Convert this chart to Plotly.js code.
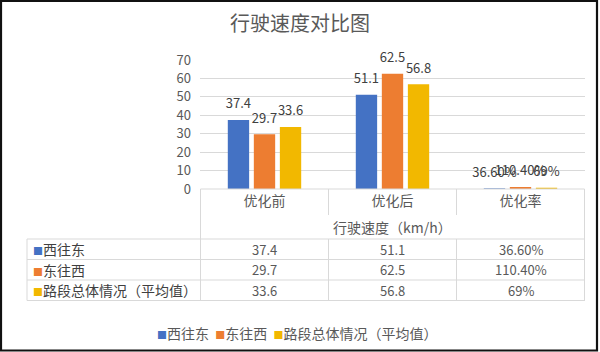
<!DOCTYPE html>
<html>
<head>
<meta charset="utf-8">
<script src="https://cdn.plot.ly/plotly-3.0.1.min.js"></script>
<style>html,body{margin:0;padding:0;background:#fff;}#chart{width:600px;height:352px;}</style>
</head>
<body>
<div id="chart"></div>
<script>
// ---- data ----
const chartTitle = '行驶速度对比图';
const axisTitle = '行驶速度（km/h）';
const categories = ['优化前', '优化后', '优化率'];
const seriesNames = ['西往东', '东往西', '路段总体情况（平均值）'];
const seriesColors = ['#4472C4', '#ED7D31', '#F2B800'];
const westToEast = [37.4, 51.1, 0.366];
const eastToWest = [29.7, 62.5, 1.104];
const overall = [33.6, 56.8, 0.69];
const westToEastLabels = ['37.4', '51.1', '36.60%'];
const eastToWestLabels = ['29.7', '62.5', '110.40%'];
const overallLabels = ['33.6', '56.8', '69%'];
const yTicks = [0, 10, 20, 30, 40, 50, 60, 70];

const seriesValues = [westToEast, eastToWest, overall];
const seriesLabels = [westToEastLabels, eastToWestLabels, overallLabels];

// ---- geometry helpers (pixel -> paper) ----
const W = 600, H = 352;
const M = {l: 200, r: 15, t: 60, b: 163};
const pw = W - M.l - M.r, ph = H - M.t - M.b;
const px = x => (x - M.l) / pw;
const py = y => (H - M.b - y) / ph;

const FONT = '"Noto Sans CJK SC", "Noto Sans", sans-serif';
const TXT = '#595959';
const GRID = '#D9D9D9';
const GAP = 0.39;

const traces = [];
seriesNames.forEach((name, i) => {
  traces.push({
    type: 'bar',
    name: name,
    x: categories,
    y: seriesValues[i],
    offsetgroup: String(i),
    marker: {color: seriesColors[i]},
    hoverinfo: 'none',
    showlegend: false
  });
});
// data labels, grouped like the bars
seriesNames.forEach((name, i) => {
  traces.push({
    type: 'scatter',
    mode: 'markers+text',
    name: name + ' labels',
    x: categories,
    y: seriesValues[i],
    offsetgroup: String(i),
    text: seriesLabels[i],
    textposition: 'top center',
    cliponaxis: false,
    textfont: {family: FONT, size: 13, color: '#404040'},
    marker: {size: 12, opacity: 0, color: seriesColors[i]},
    hoverinfo: 'none',
    showlegend: false
  });
});

// table lines
const shapes = [];
const line = {color: GRID, width: 1};
shapes.push({type: 'line', xref: 'x', yref: 'paper', x0: -0.5, x1: categories.length - 0.5, y0: 0, y1: 0, line});
shapes.push({type: 'line', xref: 'x', yref: 'paper', x0: -0.5, x1: -0.5, y0: 0, y1: py(300.5), line});
shapes.push({type: 'line', xref: 'x', yref: 'paper', x0: categories.length - 0.5, x1: categories.length - 0.5, y0: 0, y1: py(300.5), line});
for (let j = 1; j < categories.length; j++) {
  shapes.push({type: 'line', xref: 'x', yref: 'paper', x0: j - 0.5, x1: j - 0.5, y0: 0, y1: py(215), line});
  shapes.push({type: 'line', xref: 'x', yref: 'paper', x0: j - 0.5, x1: j - 0.5, y0: py(239), y1: py(300.5), line});
}
const rowEdges = [239, 259.5, 280, 300.5];
rowEdges.forEach(r => shapes.push({type: 'line', xref: 'paper', yref: 'paper', x0: px(27), x1: 1, y0: py(r), y1: py(r), line}));
shapes.push({type: 'line', xref: 'paper', yref: 'paper', x0: px(27), x1: px(27), y0: py(239), y1: py(300.5), line});
// outer frame
shapes.push({type: 'rect', xref: 'paper', yref: 'paper', x0: px(1), x1: px(597), y0: py(1), y1: py(350.5), line: {color: '#111', width: 2.2}});

const annotations = [];
seriesNames.forEach((name, i) => {
  const yc = py((rowEdges[i] + rowEdges[i + 1]) / 2);
  annotations.push({
    xref: 'paper', yref: 'paper', x: px(31), y: yc, xanchor: 'left', yanchor: 'middle', showarrow: false,
    text: '<span style="color:' + seriesColors[i] + ';font-size:10px">■</span>' + name,
    font: {family: FONT, size: 14, color: '#404040'}
  });
  categories.forEach((c, j) => {
    annotations.push({
      xref: 'x', yref: 'paper', x: c, y: yc, xanchor: 'center', yanchor: 'middle', showarrow: false,
      text: seriesLabels[i][j],
      font: {family: FONT, size: 13, color: TXT}
    });
  });
});
// axis title
annotations.push({
  xref: 'paper', yref: 'paper', x: 0.5, y: py(227), xanchor: 'center', yanchor: 'middle', showarrow: false,
  text: axisTitle, font: {family: FONT, size: 14, color: TXT}
});
// legend (built from series names / colors)
annotations.push({
  xref: 'paper', yref: 'paper', x: px(297), y: py(333), xanchor: 'center', yanchor: 'middle', showarrow: false,
  text: seriesNames.map((n, i) => '<span style="color:' + seriesColors[i] + ';font-size:10px">■</span>' + n).join('\u00A0\u00A0'),
  font: {family: FONT, size: 14, color: TXT}
});

const layout = {
  width: W, height: H,
  margin: M,
  paper_bgcolor: '#fff', plot_bgcolor: '#fff',
  font: {family: FONT, color: TXT},
  title: {text: chartTitle, x: 0.5, xref: 'container', y: 1 - 24 / H, yref: 'container', yanchor: 'middle',
          font: {family: FONT, size: 20, color: TXT}},
  barmode: 'group',
  bargap: GAP,
  bargroupgap: 0.18,
  scattermode: 'group',
  scattergap: GAP,
  showlegend: false,
  xaxis: {
    type: 'category', showline: false, showgrid: false, zeroline: false, ticks: '',
    tickfont: {family: FONT, size: 14, color: TXT}, ticklabelstandoff: 2, fixedrange: true
  },
  yaxis: {
    range: [0, 70], tickvals: yTicks, showgrid: true, gridcolor: GRID, gridwidth: 1, zeroline: false,
    showline: false, ticks: '', tickfont: {family: FONT, size: 13, color: TXT}, ticklabelstandoff: 8, fixedrange: true
  },
  shapes: shapes,
  annotations: annotations
};

Plotly.newPlot('chart', traces, layout, {displayModeBar: false, staticPlot: true});
</script>
</body>
</html>
